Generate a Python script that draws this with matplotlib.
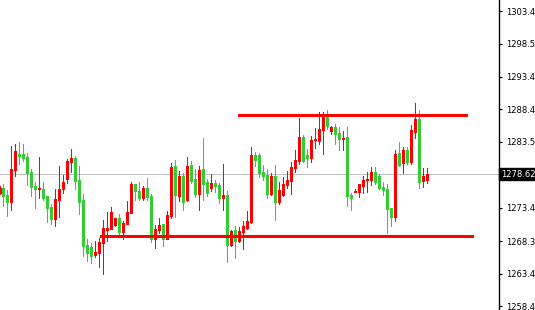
import numpy as np
import matplotlib
matplotlib.use("Agg")
import matplotlib.pyplot as plt
import matplotlib.transforms as mtransforms

# ---- data ----
opens = [1275.75, 1276.42, 1275.40, 1274.38, 1279.26, 1281.70, 1281.60, 1281.19, 1278.91, 1276.82,
         1276.36, 1276.31, 1275.25, 1273.57, 1271.78, 1274.64, 1276.31, 1277.88, 1280.48, 1281.09,
         1277.69, 1274.64, 1267.77, 1267.47, 1266.29, 1266.60, 1268.12, 1270.11, 1270.26, 1270.87,
         1271.89, 1269.76, 1271.02, 1272.70, 1277.08, 1276.01, 1274.94, 1276.47, 1275.25, 1268.73,
         1270.11, 1270.98, 1268.73, 1272.20, 1279.82, 1275.25, 1278.30, 1274.64, 1279.97, 1277.84,
         1275.55, 1279.36, 1277.38, 1276.47, 1277.23, 1276.92, 1274.99, 1275.40, 1267.82, 1270.06,
         1268.43, 1269.80, 1270.41, 1271.33, 1281.50, 1281.50, 1278.95, 1278.49, 1275.60, 1278.34,
         1274.38, 1275.44, 1276.92, 1277.58, 1279.56, 1280.63, 1284.24, 1281.50, 1281.09, 1283.74,
         1283.68, 1285.36, 1287.29, 1285.16, 1285.77, 1284.85, 1283.98, 1284.24, 1275.44, 1275.86,
         1275.90, 1276.77, 1277.73, 1277.69, 1278.91, 1278.34, 1276.62, 1276.31, 1273.37, 1272.09,
         1281.76, 1280.32, 1282.26, 1280.48, 1285.05, 1286.99, 1277.53, 1277.73]
highs = [1276.77, 1277.08, 1276.16, 1282.87, 1283.18, 1283.48, 1283.18, 1281.80, 1279.36, 1277.43,
         1281.19, 1277.38, 1275.25, 1274.07, 1276.27, 1279.82, 1278.45, 1280.89, 1282.41, 1281.35,
         1279.82, 1275.50, 1268.69, 1268.12, 1268.34, 1268.84, 1271.59, 1272.81, 1273.57, 1271.89,
         1272.55, 1271.43, 1274.53, 1277.38, 1277.08, 1277.38, 1276.77, 1277.99, 1275.55, 1270.82,
         1271.89, 1270.98, 1272.96, 1280.28, 1280.74, 1279.06, 1278.75, 1281.19, 1280.58, 1279.36,
         1279.82, 1284.09, 1277.84, 1278.60, 1277.69, 1277.23, 1280.13, 1276.01, 1270.06, 1270.67,
         1270.52, 1271.43, 1272.96, 1282.72, 1281.96, 1281.80, 1279.97, 1279.36, 1278.80, 1279.97,
         1277.43, 1278.14, 1279.06, 1280.48, 1282.26, 1287.14, 1284.55, 1282.41, 1284.40, 1285.62,
         1288.06, 1288.06, 1288.36, 1285.92, 1286.23, 1285.77, 1285.16, 1285.77, 1275.75, 1276.36,
         1277.08, 1278.30, 1278.95, 1279.71, 1279.71, 1278.60, 1277.33, 1277.08, 1273.46, 1282.26,
         1283.48, 1282.76, 1282.76, 1286.07, 1289.38, 1288.36, 1279.47, 1279.47]
lows = [1275.55, 1273.77, 1272.24, 1273.11, 1278.34, 1280.08, 1280.58, 1276.92, 1275.25, 1273.46,
        1274.99, 1274.68, 1271.33, 1270.98, 1270.72, 1272.09, 1275.70, 1277.27, 1278.95, 1276.36,
        1272.55, 1266.14, 1265.38, 1265.07, 1265.99, 1264.46, 1263.40, 1268.43, 1270.26, 1270.67,
        1269.34, 1268.73, 1271.02, 1272.70, 1274.68, 1274.64, 1274.64, 1274.64, 1268.28, 1267.36,
        1269.65, 1267.67, 1268.73, 1271.89, 1272.04, 1274.48, 1273.11, 1274.48, 1277.23, 1275.09,
        1273.11, 1274.64, 1275.25, 1276.01, 1275.86, 1274.18, 1273.16, 1265.23, 1267.67, 1265.84,
        1268.28, 1267.21, 1270.26, 1271.17, 1279.87, 1278.19, 1277.73, 1274.99, 1275.44, 1271.63,
        1274.07, 1275.29, 1276.51, 1275.60, 1278.95, 1280.17, 1280.38, 1279.71, 1280.48, 1282.61,
        1283.22, 1281.70, 1285.46, 1284.70, 1283.22, 1282.31, 1282.26, 1273.77, 1273.16, 1275.81,
        1275.14, 1275.75, 1275.90, 1276.92, 1277.12, 1276.27, 1275.40, 1269.65, 1270.72, 1271.48,
        1279.82, 1278.80, 1280.13, 1280.13, 1284.14, 1276.51, 1276.66, 1277.27]
closes = [1276.51, 1275.25, 1274.38, 1279.36, 1282.11, 1281.35, 1280.99, 1278.80, 1276.66, 1276.31,
          1276.51, 1274.99, 1273.46, 1271.78, 1274.79, 1276.31, 1277.38, 1280.58, 1281.04, 1277.58,
          1274.38, 1267.67, 1266.60, 1266.14, 1266.71, 1268.23, 1270.37, 1270.37, 1272.81, 1271.89,
          1269.76, 1271.13, 1272.81, 1277.08, 1276.01, 1274.94, 1276.47, 1275.09, 1268.73, 1270.21,
          1270.82, 1268.73, 1272.35, 1279.67, 1275.40, 1278.30, 1274.33, 1279.82, 1277.53, 1275.55,
          1279.21, 1277.08, 1275.70, 1277.23, 1276.77, 1274.94, 1275.40, 1267.82, 1269.91, 1268.43,
          1269.91, 1270.67, 1271.43, 1281.50, 1280.78, 1278.80, 1278.34, 1275.60, 1278.34, 1274.38,
          1276.21, 1277.08, 1277.73, 1279.62, 1280.74, 1284.24, 1280.63, 1281.09, 1283.79, 1283.83,
          1285.46, 1287.29, 1285.92, 1285.77, 1284.70, 1283.94, 1284.14, 1275.29, 1274.99, 1276.01,
          1277.08, 1277.69, 1277.84, 1278.91, 1277.33, 1276.51, 1276.21, 1273.26, 1272.09, 1281.65,
          1279.97, 1282.26, 1280.48, 1285.31, 1286.99, 1277.43, 1278.30, 1278.60]

tick_values = [1303.45, 1298.50, 1293.40, 1288.45, 1283.50, 1273.45, 1268.35, 1263.40, 1258.45]
tick_labels = ["1303.45", "1298.50", "1293.40", "1288.45", "1283.50", "1273.45", "1268.35", "1263.40", "1258.45"]
current_price = 1278.60
current_label = "1278.62"
resistance_level = 1287.67
support_level = 1269.11

# ---- figure ----
W, H, DPI = 535, 310, 100
PX = 72.0 / DPI  # one pixel in points
fig = plt.figure(figsize=(W / DPI, H / DPI), dpi=DPI, facecolor="white")
ax = fig.add_axes([0, 0, 499 / W, 1])
ax.set_facecolor("white")

o = np.array(opens); h = np.array(highs); l = np.array(lows); c = np.array(closes)
x = np.arange(len(o)) - 1
up = c >= o
UPC, DNC = "#ff0000", "#32cd32"
cols = np.where(up, UPC, DNC)

ax.set_xlim(-0.875, -0.875 + 499 / 4.0)
ax.set_ylim(1257.86, 1305.14)

# current price line
ax.axhline(current_price, color="#c0c0c0", lw=PX, antialiased=False, zorder=1)

# wicks (1 px)
ax.vlines(x, l, h, colors=cols, lw=PX, antialiased=False, zorder=2)
# bodies (3 px wide)
body_bot = np.minimum(o, c)
body_top = np.maximum(np.maximum(o, c), body_bot + 0.16)
body = ax.vlines(x, body_bot, body_top, colors=cols, lw=3 * PX, antialiased=False, zorder=3)
body.set_capstyle("butt")

# support/resistance lines
ax.hlines(resistance_level, 58.7, 115.9, colors="#ff0000", lw=3 * PX, antialiased=False, zorder=4)
ax.hlines(support_level, 24.2, 117.4, colors="#ff0000", lw=3 * PX, antialiased=False, zorder=4)

# axes styling
for s in ["top", "left", "bottom"]:
    ax.spines[s].set_visible(False)
ax.spines["right"].set_color("black")
ax.spines["right"].set_linewidth(1.0)
ax.set_xticks([])
ax.yaxis.tick_right()
ax.set_yticks(tick_values)
ax.set_yticklabels(tick_labels)
ax.tick_params(axis="y", direction="out", length=2.5, width=0.8, pad=2.5,
               labelsize=6, colors="black")

trans = mtransforms.blended_transform_factory(ax.transAxes, ax.transData)
ax.text(1.004, current_price, current_label, transform=trans, ha="left", va="center",
        fontsize=6, color="white", zorder=10, clip_on=False,
        bbox=dict(boxstyle="square,pad=0.2", fc="black", ec="black"))

fig.savefig("out.png", dpi=DPI, facecolor="white")
